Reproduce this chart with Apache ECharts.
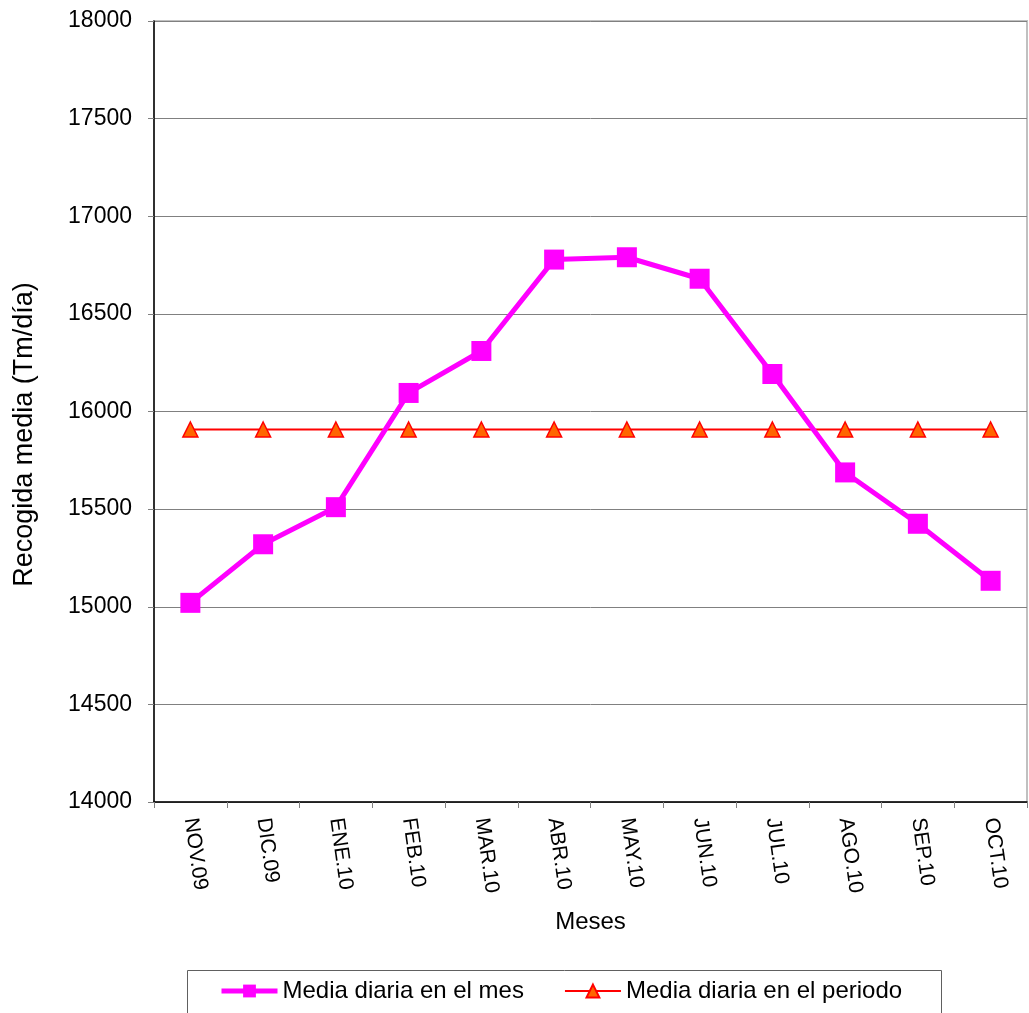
<!DOCTYPE html>
<html><head><meta charset="utf-8">
<script src="https://cdn.jsdelivr.net/npm/echarts@6/dist/echarts.min.js"></script>
<style>html,body{margin:0;padding:0;background:#fff}#c{width:1029px;height:1013px}</style>
</head><body><div id="c"></div>
<script>
var months = ['NOV.09','DIC.09','ENE.10','FEB.10','MAR.10','ABR.10','MAY.10','JUN.10','JUL.10','AGO.10','SEP.10','OCT.10'];
var mediaMes = [15020,15320,15510,16095,16310,16778,16790,16680,16192,15688,15425,15133];
var mediaPeriodo = [15908,15908,15908,15908,15908,15908,15908,15908,15908,15908,15908,15908];
var font = 'Liberation Sans, Arial, sans-serif';
var chart = echarts.init(document.getElementById('c'));
chart.setOption({
  animation:false,
  backgroundColor:'#fff',
  grid:{left:154,top:21,right:2,bottom:211,show:true,borderColor:'#c0c0c0',borderWidth:2},
  graphic:[{type:'rect',left:185,top:968,shape:{width:754,height:60},style:{fill:'none',stroke:'#606060',lineWidth:1}}],
  legend:{left:214,top:974,itemGap:40,itemWidth:56,itemHeight:16,textStyle:{fontFamily:font,fontSize:24,color:'#000'},
    data:[{name:'Media diaria en el mes',lineStyle:{width:5}},{name:'Media diaria en el periodo',lineStyle:{width:2}}]},
  xAxis:{type:'category',data:months,boundaryGap:true,
    name:'Meses',nameLocation:'middle',nameGap:108,nameTextStyle:{fontFamily:font,fontSize:24,color:'#000'},
    axisLine:{lineStyle:{color:'#000',width:1.5}},
    axisTick:{show:true,length:6,lineStyle:{color:'#808080'}},
    axisLabel:{rotate:-82,margin:16,fontFamily:font,fontSize:21,color:'#000'}},
  yAxis:{type:'value',min:14000,max:18000,interval:500,
    name:'Recogida media (Tm/día)',nameLocation:'middle',nameGap:116,
    nameTextStyle:{fontFamily:font,fontSize:27,color:'#000',padding:[0,46,0,0]},
    axisLine:{show:true,lineStyle:{color:'#000',width:1.5}},
    axisTick:{show:true,length:6,lineStyle:{color:'#808080'}},
    axisLabel:{margin:22,fontFamily:font,fontSize:23,color:'#000',formatter:function(v){return String(v);}},
    splitLine:{lineStyle:{color:'#808080',width:1}}},
  series:[
    {name:'Media diaria en el mes',type:'line',data:mediaMes,symbol:'rect',symbolSize:20,
      lineStyle:{color:'#ff00ff',width:5},itemStyle:{color:'#ff00ff'},z:3},
    {name:'Media diaria en el periodo',type:'line',data:mediaPeriodo,symbol:'triangle',symbolSize:15,
      lineStyle:{color:'#ff0000',width:2},itemStyle:{color:'#ff6600',borderColor:'#ff0000',borderWidth:1.5},z:2}
  ]
});
</script></body></html>
